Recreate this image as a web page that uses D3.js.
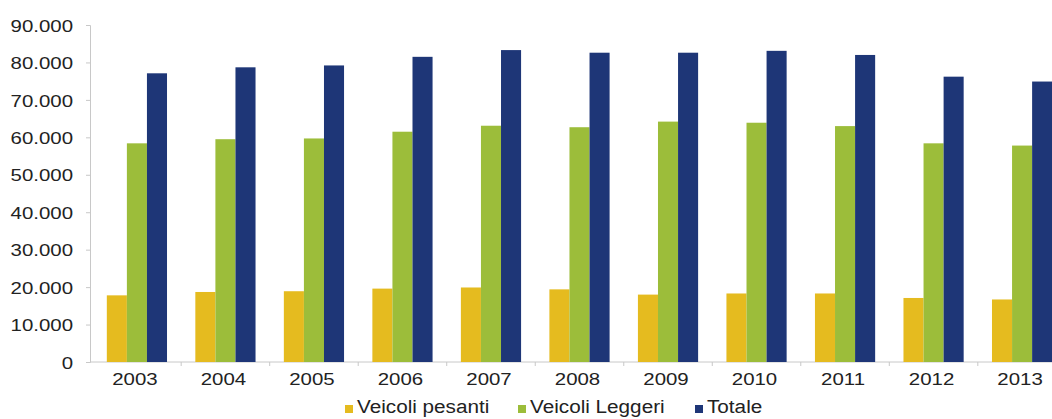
<!DOCTYPE html>
<html>
<head>
<meta charset="utf-8">
<script src="https://cdn.jsdelivr.net/npm/d3@7"></script>
<style>
  html, body { margin: 0; padding: 0; background: #fff; }
  svg { display: block; }
  text { font-family: "Liberation Sans", Arial, Helvetica, sans-serif; fill: #222; }
</style>
</head>
<body>
<svg id="chart" width="1052" height="419"></svg>
<script>
// Vehicle counts per year
const years = ["2003","2004","2005","2006","2007","2008","2009","2010","2011","2012","2013"];
const pesanti = [17800, 18700, 18900, 19600, 19900, 19400, 18000, 18300, 18300, 17100, 16700];
const leggeri = [58400, 59500, 59700, 61500, 63100, 62700, 64200, 63900, 63000, 58400, 57800];
const totale  = [77100, 78700, 79200, 81500, 83300, 82600, 82600, 83100, 82000, 76200, 74900];
const seriesNames = ["Veicoli pesanti", "Veicoli Leggeri", "Totale"];
const seriesColors = ["#e5bb1f", "#9cbd3a", "#1e3677"];
const yTicks = [0, 10000, 20000, 30000, 40000, 50000, 60000, 70000, 80000, 90000];

const series = [pesanti, leggeri, totale];
const svg = d3.select("#chart");

const it = d3.formatLocale({ decimal: ",", thousands: ".", grouping: [3], currency: ["€", ""] });
const fmt = it.format(",d");

const x0 = d3.scaleBand().domain(years).range([90, 1069]).paddingInner(0.32).paddingOuter(0.19);
const x1 = d3.scaleBand().domain(d3.range(series.length)).range([0, x0.bandwidth()]);
const y = d3.scaleLinear().domain([0, 90000]).range([362, 25]);

// stretch text horizontally a little
function widen(sel, k) {
  sel.each(function() {
    const len = this.getComputedTextLength();
    d3.select(this).attr("textLength", len * k).attr("lengthAdjust", "spacingAndGlyphs");
  });
}

// Y axis
const yAxis = svg.append("g").attr("transform", "translate(90,0)")
  .call(d3.axisLeft(y).tickValues(yTicks).tickFormat(fmt).tickSize(4).tickPadding(13));
yAxis.select(".domain").attr("stroke", "#c8c8c8");
yAxis.selectAll(".tick line").attr("stroke", "#c8c8c8");
yAxis.selectAll("text").attr("font-size", 17).attr("fill", "#222").attr("dy", "0.36em")
  .call(widen, 1.2);

// X axis: ticks at group boundaries
const xAxis = svg.append("g").attr("transform", "translate(0,362)");
xAxis.append("line").attr("x1", 90).attr("x2", 1052).attr("stroke", "#c8c8c8");
const step = x0.step();
xAxis.selectAll(".bt").data(years.slice(1)).join("line")
  .attr("x1", d => x0(d) - (step - x0.bandwidth()) / 2)
  .attr("x2", d => x0(d) - (step - x0.bandwidth()) / 2)
  .attr("y1", 0).attr("y2", 4).attr("stroke", "#c8c8c8");

// Bars
years.forEach((yr, i) => {
  const g = svg.append("g").attr("transform", `translate(${x0(yr)},0)`);
  series.forEach((s, j) => {
    g.append("rect")
      .attr("x", x1(j)).attr("width", x1.bandwidth())
      .attr("y", y(s[i])).attr("height", y(0) - y(s[i]))
      .attr("fill", seriesColors[j]);
  });
});

// Year labels
svg.append("g").selectAll("text").data(years).join("text")
  .attr("x", d => x0(d) + x0.bandwidth() / 2 - 2)
  .attr("y", 385)
  .attr("text-anchor", "middle")
  .attr("font-size", 17)
  .text(d => d)
  .call(widen, 1.2);

// Legend
const legendX = [345, 518, 695];
const legend = svg.append("g");
seriesNames.forEach((name, j) => {
  legend.append("rect").attr("x", legendX[j]).attr("y", 405).attr("width", 8).attr("height", 8)
    .attr("fill", seriesColors[j]);
  legend.append("text").attr("x", legendX[j] + 12).attr("y", 413)
    .attr("font-size", 18).text(name).call(widen, 1.15);
});
</script>
</body>
</html>
